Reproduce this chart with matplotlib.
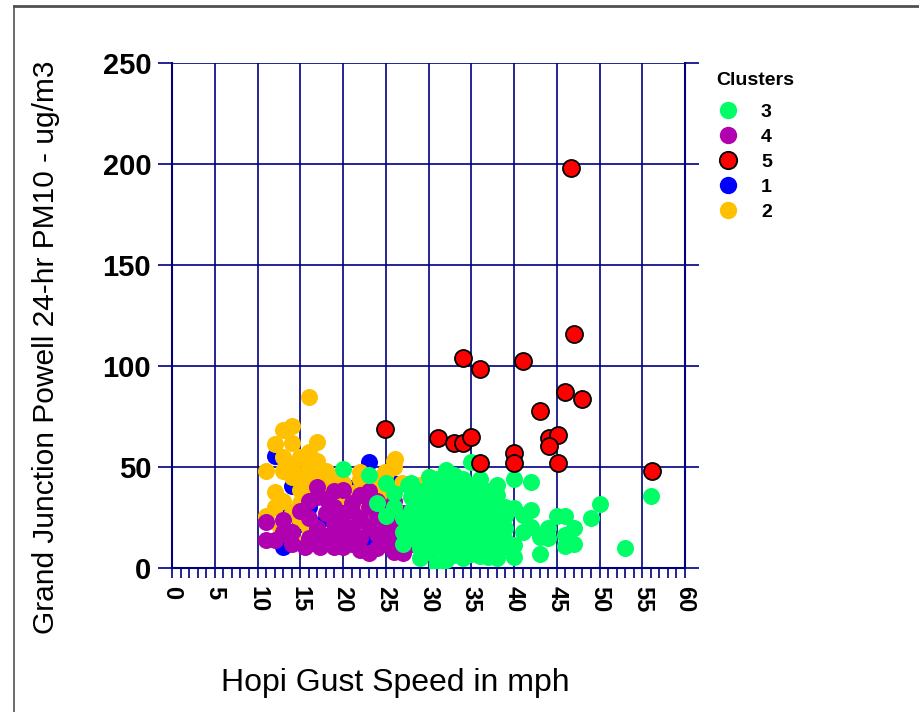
import matplotlib
matplotlib.use("Agg")
import matplotlib.pyplot as plt
from matplotlib.lines import Line2D
from matplotlib.ticker import MultipleLocator

# gust speed (mph) and PM10 (ug/m3) per cluster
c1_x = [12, 14, 13, 21, 23, 23, 24.3, 31.9, 25.9, 20.4, 35, 36.2, 17, 16, 18, 26, 15, 19, 13, 35]
c1_y = [55.4, 40.6, 10.5, 39.6, 52.6, 14.7, 12.3, 9.8, 42, 40, 39.5, 15.5, 12, 30, 25, 11, 22, 18, 30, 37]

c2_x = [16, 14, 13, 12, 14, 17, 16, 11, 13, 16, 18, 19, 12, 15, 16, 12, 14, 15, 21, 12.6,
        15, 13, 17, 15, 14, 17, 18, 20, 22, 21, 23, 24, 25, 26, 26, 24, 20, 16, 14, 13,
        11, 29, 33, 28, 25, 23, 19, 17, 15, 14, 16, 18, 20, 22,
        24.9, 26.1, 22.3, 23.7, 25.1, 26.9, 30, 32.9, 19]
c2_y = [84.7, 70.3, 68.3, 61.4, 61.7, 62.5, 57.6, 48.2, 48.2, 49.9, 44, 44, 37.5, 38.6, 36.1, 30.3, 27.1, 23.8, 30.3, 20.4,
        55, 55, 53, 45, 50, 47, 40, 42, 44, 37, 40, 35, 47, 53, 50, 42, 33, 20, 15, 33,
        26, 41, 44, 40, 38, 34, 36, 38, 32, 45, 42, 48, 40, 47.7,
        47.7, 53.8, 36, 37.8, 37.8, 42, 44.9, 44.4, 44.4]

c3_x = [56, 53, 50, 49, 46, 47, 46, 46, 43, 44, 42, 40, 38, 37, 42, 41, 39, 40, 42, 41,
        43, 40, 40, 38, 37, 38, 39, 31, 33, 20, 27.6, 29, 31, 32, 35, 28, 45, 44, 47,
        28, 28, 28, 28, 29, 29, 29, 29, 30, 30, 30, 30, 30, 30, 31, 31, 31, 31, 31,
        32, 32, 32, 32, 32, 32, 33, 33, 33, 33, 33, 34, 34, 34, 34, 34, 34,
        35, 35, 35, 35, 35, 35, 36, 36, 36, 36, 36, 37, 37, 37, 37, 37, 38, 38, 38,
        39, 39, 39, 36, 34, 32, 29, 27, 27, 27, 26, 26, 25, 24, 25, 23, 30, 33, 36, 38, 31]
c3_y = [35.5, 10, 31.5, 25, 25.7, 20, 16.3, 11, 6.8, 14.7, 42.7, 44, 41, 38.3, 28.7, 26.2, 30.3, 29.5, 20.5, 18,
        15.5, 11.4, 5.6, 4.8, 5.6, 10.6, 10.6, 0.5, 6.4, 49, 41, 32.8, 2.3, 48.5, 52.6, 42, 26, 20, 12,
        35, 28, 22, 15, 38, 25, 18, 10, 40, 33, 27, 21, 14, 8, 37, 30, 24, 17, 11,
        42, 35, 29, 22, 16, 9, 39, 33, 26, 19, 13, 44, 36, 30, 24, 17, 10,
        41, 33, 27, 21, 14, 7, 38, 31, 25, 18, 12, 34, 27, 21, 15, 9, 30, 24, 18,
        26, 20, 14, 6, 5, 4, 5, 12, 18, 25, 30, 37, 26, 32, 42, 46, 45, 46, 44, 36, 44]

c4_x = [11, 11, 12, 13, 14, 15.6, 17.3, 18.9, 20, 20, 19, 16, 17, 18, 16, 17, 18, 19, 20, 20,
        21, 21, 21, 22, 22, 22, 23, 23, 23, 24, 24, 24, 25, 25, 25, 26, 26, 27, 27, 28,
        29, 29.8, 28, 19, 17, 15, 14, 13, 16, 18, 20, 22, 23, 19, 21, 24, 26, 26,
        31, 33, 35, 34, 36, 30, 32, 35, 33]
c4_y = [23, 14, 14, 24, 18, 10.6, 10.6, 10.6, 10.6, 38.6, 30.3, 15, 20, 27, 33, 35, 16, 22, 27, 17,
        12, 20, 32, 25, 15, 9, 7.3, 20.4, 30, 33, 26, 17, 28, 21, 12, 15.5, 22, 7.3, 27, 20,
        27, 13.9, 12, 38, 40, 28, 12, 18, 25, 34, 22, 36, 38, 14, 28, 10, 33, 8,
        25, 20, 35, 16, 28, 17, 14, 24, 30]

c5_x = [46.7, 47, 34, 41.1, 36, 43, 46, 47.9, 24.9, 31.1, 33, 34, 35, 40, 40, 44.1, 45.1, 44.1, 36, 45.1, 56.1]
c5_y = [198, 116, 104, 102.5, 98.5, 77.7, 87, 83.7, 69, 64.2, 61.7, 62, 64.7, 56.8, 52.1, 64.2, 65.8, 60.4, 52.1, 51.8, 48]

navy = "#000080"
colors = {"1": "#0000ff", "2": "#ffc000", "3": "#00ff66", "4": "#b000b0", "5": "#ff0000"}
sans = ["Liberation Sans", "DejaVu Sans"]

fig = plt.figure(figsize=(9.2, 7.12), dpi=100)
ax = fig.add_axes([0.187, 0.2022, 0.5576, 0.7093])

s = 150
ax.scatter(c1_x, c1_y, s=s, color=colors["1"], linewidths=0, zorder=3)
ax.scatter(c2_x, c2_y, s=s, color=colors["2"], linewidths=0, zorder=3)
ax.scatter(c4_x, c4_y, s=s, color=colors["4"], linewidths=0, zorder=3)
ax.scatter(c3_x, c3_y, s=s, color=colors["3"], linewidths=0, zorder=3)
ax.scatter(c5_x, c5_y, s=s, color=colors["5"], edgecolors="black", linewidths=1.3, zorder=4)

ax.set_xlim(0, 60)
ax.set_ylim(0, 250)
ax.xaxis.set_major_locator(MultipleLocator(5))
ax.xaxis.set_minor_locator(MultipleLocator(1))
ax.yaxis.set_major_locator(MultipleLocator(50))
ax.grid(True, which="major", color=navy, linewidth=1.2)
ax.set_axisbelow(True)

ax.spines["top"].set_visible(False)
for side in ("left", "right", "bottom"):
    ax.spines[side].set_color(navy)
    ax.spines[side].set_linewidth(1.5)

ax.tick_params(axis="x", which="both", direction="out", length=7, width=1.2,
               color=navy, pad=6)
ax.tick_params(axis="y", which="major", direction="out", length=10, width=1.2,
               color=navy, right=True, pad=5)

for lab in ax.get_xticklabels():
    lab.set_rotation(270)
    lab.set_fontweight("bold")
    lab.set_fontsize(17)
    lab.set_family(sans)
for lab in ax.get_yticklabels():
    lab.set_fontweight("bold")
    lab.set_fontsize(21)
    lab.set_family(sans)

ax.set_xlabel("Hopi Gust Speed in mph", family=sans, fontsize=23)
ax.set_ylabel("Grand Junction Powell 24-hr PM10 - ug/m3", family=sans, fontsize=21.5)
ax.xaxis.set_label_coords(0.435, -0.198)
ax.yaxis.set_label_coords(-0.218, 0.438)

order = ["3", "4", "5", "1", "2"]
handles = []
for k in order:
    handles.append(Line2D([], [], linestyle="none", marker="o", markersize=12.5,
                          markerfacecolor=colors[k],
                          markeredgecolor="black" if k == "5" else colors[k],
                          markeredgewidth=1.3 if k == "5" else 0))
leg = fig.legend(handles, order, title="Clusters", loc="upper left",
                 bbox_to_anchor=(0.768, 0.912), frameon=False,
                 prop={"family": sans, "weight": "bold", "size": 14},
                 labelspacing=0.38, handletextpad=1.1, borderpad=0, handlelength=1.2)
leg.get_title().set_fontweight("bold")
leg.get_title().set_fontsize(14)
leg.get_title().set_family(sans)
leg._legend_box.align = "left"
leg._legend_box.sep = 10

# page frame around the chart
fig.add_artist(Line2D([14 / 920, 14 / 920], [0, 1 - 6 / 712], transform=fig.transFigure,
                      color="#505050", linewidth=1.2))
fig.add_artist(Line2D([14 / 920, 1], [1 - 6 / 712, 1 - 6 / 712], transform=fig.transFigure,
                      color="#505050", linewidth=2))

fig.savefig("out.png", dpi=100)
